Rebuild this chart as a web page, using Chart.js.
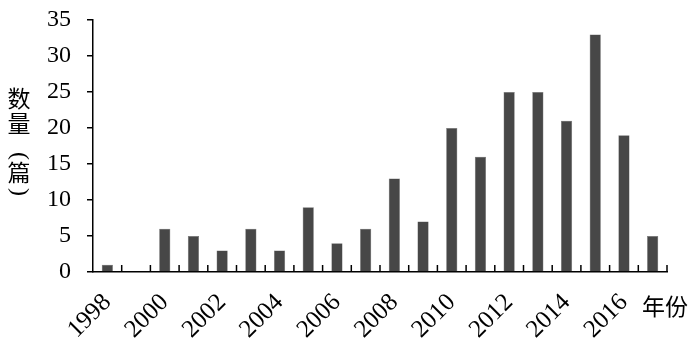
<!DOCTYPE html>
<html>
<head>
<meta charset="utf-8">
<script src="https://cdn.jsdelivr.net/npm/chart.js@4/dist/chart.umd.min.js"></script>
<style>
  html, body { margin: 0; padding: 0; background: #fff; }
  #wrap { width: 700px; height: 348px; }
</style>
</head>
<body>
<div id="wrap"><canvas id="chart"></canvas></div>
<script>
const years = ['1998', '1999', '2000', '2001', '2002', '2003', '2004', '2005', '2006', '2007',
               '2008', '2009', '2010', '2011', '2012', '2013', '2014', '2015', '2016', '2017'];
const counts = [1, 0, 6, 5, 3, 6, 3, 9, 4, 6, 13, 7, 20, 16, 25, 25, 21, 33, 19, 5];
const yTitle = ['数', '量', '(', '篇', ')'];
const xTitle = '年份';

const serif = '"Liberation Serif", "Times New Roman", serif';
const cjk = '"Noto Sans CJK SC", sans-serif';

// small tick marks pointing up from the x axis, between categories
const innerTicks = {
  id: 'innerTicks',
  afterDraw(chart) {
    const ctx = chart.ctx;
    const x = chart.scales.x;
    const bottom = chart.chartArea.bottom;
    const half = (x.getPixelForValue(1) - x.getPixelForValue(0)) / 2;
    ctx.save();
    ctx.strokeStyle = '#000';
    ctx.lineWidth = 1.5;
    for (let i = 0; i < years.length; i++) {
      const px = x.getPixelForValue(i) + half;
      ctx.beginPath();
      ctx.moveTo(px, bottom);
      ctx.lineTo(px, bottom - 7);
      ctx.stroke();
    }
    ctx.restore();
  }
};

const titles = {
  id: 'titles',
  afterDraw(chart) {
    const ctx = chart.ctx;
    ctx.save();
    ctx.fillStyle = '#000';
    ctx.textAlign = 'center';
    ctx.textBaseline = 'middle';
    const ys = [98, 123, 156, 172, 192];
    yTitle.forEach((c, i) => {
      if (c === '(' || c === ')') {
        // parentheses turned sideways, like vertical text
        ctx.save();
        ctx.translate(19, ys[i]);
        ctx.rotate(Math.PI / 2);
        ctx.font = '24px ' + serif;
        ctx.fillText(c, 0, 0);
        ctx.restore();
      } else {
        ctx.font = '23px ' + cjk;
        ctx.fillText(c, 19, ys[i]);
      }
    });
    ctx.font = '23px ' + cjk;
    ctx.textAlign = 'left';
    ctx.fillText(xTitle, 642, 306);
    ctx.restore();
  }
};

new Chart(document.getElementById('chart'), {
  type: 'bar',
  data: {
    labels: years,
    datasets: [{
      data: counts,
      backgroundColor: '#474747',
      borderColor: '#6a6a6a',
      borderWidth: 0.5,
      barPercentage: 0.39,
      categoryPercentage: 1
    }]
  },
  options: {
    responsive: true,
    maintainAspectRatio: false,
    animation: false,
    layout: { padding: { top: 20, right: 33, left: 0, bottom: 0 } },
    plugins: { legend: { display: false }, tooltip: { enabled: false } },
    scales: {
      x: {
        grid: { display: false },
        border: { color: '#000', width: 1.5 },
        ticks: {
          color: '#000',
          font: { family: serif, size: 25 },
          autoSkip: false,
          minRotation: 45,
          maxRotation: 45,
          padding: 8,
          callback: (v, i) => (i % 2 === 0 ? years[i] : '')
        },
        afterFit: s => { s.height = 76; s.paddingLeft = 0; s.paddingRight = 0; }
      },
      y: {
        min: 0,
        max: 35,
        grid: { drawOnChartArea: false, color: '#000', lineWidth: 1.5, tickLength: 6 },
        border: { color: '#000', width: 1.5 },
        ticks: {
          stepSize: 5,
          color: '#000',
          font: { family: serif, size: 24 },
          padding: 16
        },
        afterFit: s => { s.width = 93; s.paddingTop = 0; s.paddingBottom = 0; }
      }
    }
  },
  plugins: [innerTicks, titles]
});
</script>
</body>
</html>
